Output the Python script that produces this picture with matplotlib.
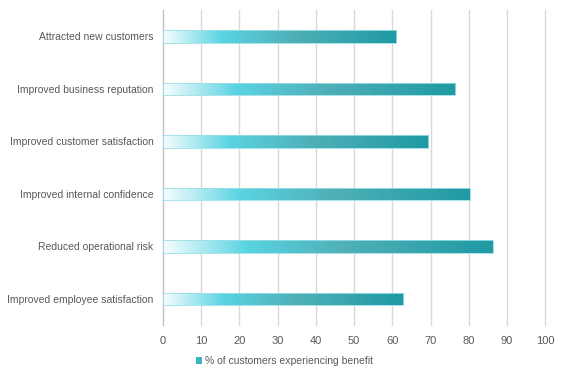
import matplotlib
matplotlib.use("Agg")
import matplotlib.pyplot as plt
import numpy as np
from matplotlib.colors import LinearSegmentedColormap
from matplotlib.patches import Patch

plt.rcParams["font.family"] = ["Liberation Sans", "DejaVu Sans"]

categories = ["Attracted new customers", "Improved business reputation",
              "Improved customer satisfaction", "Improved internal confidence",
              "Reduced operational risk", "Improved employee satisfaction"]
values = [61, 76.4, 69.4, 80.3, 86.2, 62.9]
xticks = [0, 10, 20, 30, 40, 50, 60, 70, 80, 90, 100]
legend_label = "% of customers experiencing benefit"

cmap = LinearSegmentedColormap.from_list(
    "grad", [(0.0, "#f6fdfe"), (0.25, "#5ad4e2"), (0.55, "#50b0b8"), (1.0, "#1f9aa3")])

fig = plt.figure(figsize=(5.63, 3.75), dpi=100)
ax = fig.add_axes([0.2895, 0.133, 0.679, 0.840])
ypos = np.arange(len(categories))[::-1]
h = 0.24
bars = ax.barh(ypos, values, height=h, color="none", edgecolor="#9adfe6", linewidth=0.6, zorder=3)
grad = np.linspace(0, 1, 256).reshape(1, -1)
for b, v, y in zip(bars, values, ypos):
    im = ax.imshow(grad, cmap=cmap, aspect="auto", extent=(0, v, y - h / 2, y + h / 2), zorder=2)
    im.set_clip_path(b)

ax.set_xlim(0, 100)
ax.set_ylim(-0.5, len(categories) - 0.5)
ax.set_xticks(xticks)
ax.set_yticks(ypos)
ax.set_yticklabels(categories)
ax.grid(axis="x", color="#d9d9d9", linewidth=1.0, zorder=0)
for gl in ax.get_xgridlines():
    gl.set_clip_on(False)
ax.set_axisbelow(True)
for s in ["top", "right", "bottom"]:
    ax.spines[s].set_visible(False)
ax.spines["left"].set_color("#bfbfbf")
ax.tick_params(axis="both", length=0, colors="#595959", labelsize=7.5)
ax.tick_params(axis="x", pad=8, labelsize=8)
ax.tick_params(axis="y", pad=7)

handle = Patch(facecolor="#3bb6c0", edgecolor="none")
fig.legend([handle], [legend_label], loc="center", bbox_to_anchor=(0.505, 0.037),
           frameon=False, fontsize=7.5, labelcolor="#595959", handlelength=0.6,
           handleheight=0.6, handletextpad=0.3)
fig.savefig("out.png", dpi=100)
